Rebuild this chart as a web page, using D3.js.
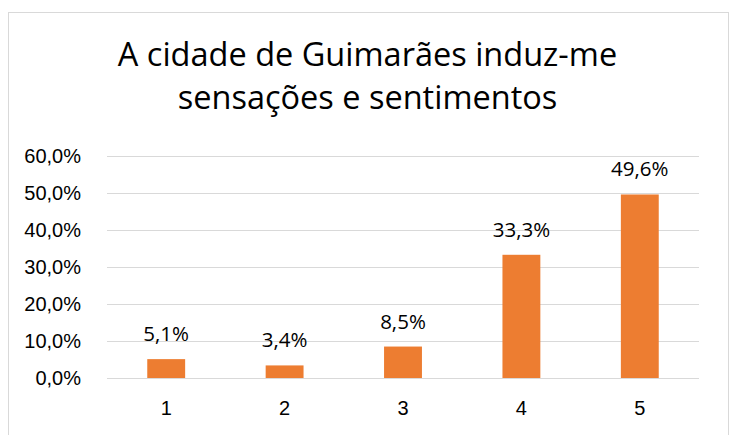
<!DOCTYPE html>
<html lang="pt">
  <head>
    <meta charset="utf-8" />
    <title>A cidade de Guimarães induz-me sensações e sentimentos</title>
    <style>
      body {
        margin: 0;
        background: #fff;
      }
      svg {
        font-family: "Open Sans", "Noto Sans", sans-serif;
      }
      .grid line {
        stroke: #d9d9d9;
        stroke-width: 1px;
      }
      .axis text {
        fill: #000;
      }
    </style>
    <script src="https://cdn.jsdelivr.net/npm/d3@7"></script>
  </head>
  <body>
    <svg width="735" height="435"></svg>
    <script>
      // data
      var categories = ["1", "2", "3", "4", "5"];
      var values = [5.1, 3.4, 8.5, 33.3, 49.6];
      var yTicks = [0, 10, 20, 30, 40, 50, 60];
      var titleLines = ["A cidade de Guimarães induz-me", "sensações e sentimentos"];

      var svg = d3.select("svg"),
        width = +svg.attr("width"),
        height = +svg.attr("height");

      // portuguese number format: comma as decimal separator
      var pt = d3.formatLocale({ decimal: ",", thousands: ".", grouping: [3], currency: ["", " €"] });
      var fmt = pt.format(".1f");

      var margin = { top: 156, right: 36, bottom: 57, left: 107 };

      // chart frame
      svg
        .append("rect")
        .attr("x", 8.5)
        .attr("y", 12.5)
        .attr("width", 720)
        .attr("height", 440)
        .attr("fill", "#fff")
        .attr("stroke", "#d9d9d9");

      var x = d3
        .scaleBand()
        .domain(categories)
        .range([margin.left, width - margin.right])
        .paddingInner(0.68)
        .paddingOuter(0.34);

      var y = d3
        .scaleLinear()
        .domain([0, 60])
        .range([height - margin.bottom, margin.top]);

      // horizontal gridlines
      svg
        .append("g")
        .attr("class", "grid")
        .selectAll("line")
        .data(yTicks)
        .enter()
        .append("line")
        .attr("x1", margin.left)
        .attr("x2", width - margin.right)
        .attr("y1", (d) => Math.round(y(d)) + 0.5)
        .attr("y2", (d) => Math.round(y(d)) + 0.5);

      // y axis labels
      var yAxis = svg
        .append("g")
        .attr("class", "axis")
        .attr("transform", "translate(" + (margin.left - 23) + ",0)")
        .call(
          d3
            .axisLeft(y)
            .tickValues(yTicks)
            .tickSize(0)
            .tickFormat((d) => fmt(d) + "%")
        );
      yAxis.select(".domain").remove();
      yAxis.selectAll("text").attr("font-size", "20px").attr("font-family", null);

      // x axis labels
      var xAxis = svg
        .append("g")
        .attr("class", "axis")
        .attr("transform", "translate(0," + (height - margin.bottom) + ")")
        .call(d3.axisBottom(x).tickSize(0).tickPadding(23));
      xAxis.select(".domain").remove();
      xAxis.selectAll("text").attr("font-size", "20px").attr("font-family", null);

      // bars
      svg
        .append("g")
        .selectAll("rect")
        .data(values)
        .enter()
        .append("rect")
        .attr("x", (d, i) => x(categories[i]))
        .attr("width", x.bandwidth())
        .attr("y", (d) => y(d))
        .attr("height", (d) => y(0) - y(d))
        .attr("fill", "#ed7d31");

      // value labels
      svg
        .append("g")
        .selectAll("text")
        .data(values)
        .enter()
        .append("text")
        .attr("x", (d, i) => x(categories[i]) + x.bandwidth() / 2)
        .attr("y", (d) => y(d) - 18)
        .attr("text-anchor", "middle")
        .attr("font-size", "20.5px")
        .attr("fill", "#000")
        .text((d) => fmt(d) + "%");

      // title
      svg
        .append("g")
        .selectAll("text")
        .data(titleLines)
        .enter()
        .append("text")
        .attr("x", width / 2)
        .attr("y", (d, i) => 66 + i * 43)
        .attr("text-anchor", "middle")
        .attr("font-size", "32.5px")
        .attr("fill", "#000")
        .text((d) => d);
    </script>
  </body>
</html>
